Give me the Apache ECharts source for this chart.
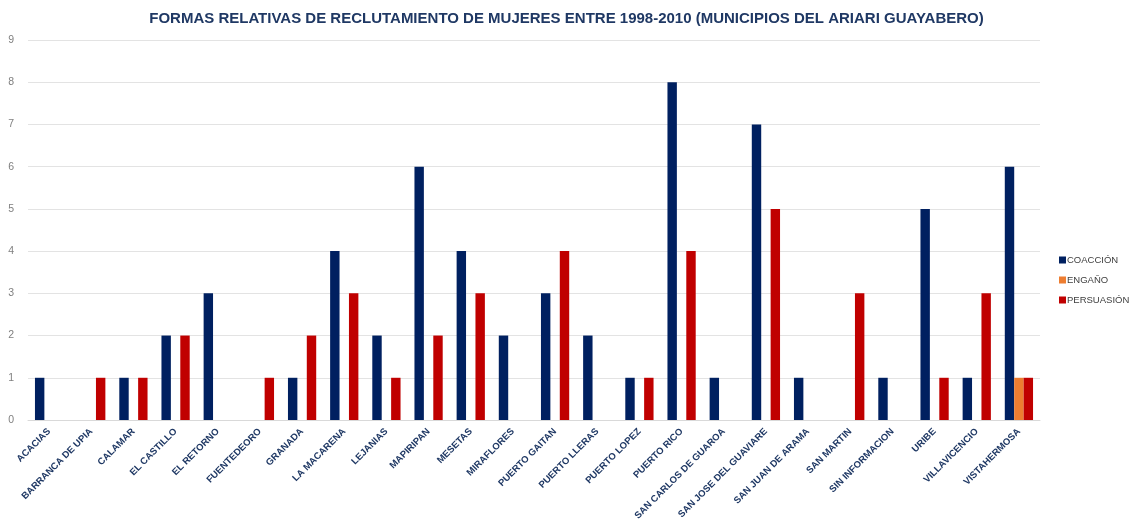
<!DOCTYPE html>
<html><head><meta charset="utf-8">
<script src="https://cdn.jsdelivr.net/npm/echarts@6/dist/echarts.min.js"></script>
<style>html,body{margin:0;padding:0;background:#fff}#c{width:1133px;height:524px}</style>
</head><body><div id="c"></div>
<script>
const categories = ['ACACIAS','BARRANCA DE UPIA','CALAMAR','EL CASTILLO','EL RETORNO','FUENTEDEORO','GRANADA','LA MACARENA','LEJANIAS','MAPIRIPAN','MESETAS','MIRAFLORES','PUERTO GAITAN','PUERTO LLERAS','PUERTO LOPEZ','PUERTO RICO','SAN CARLOS DE GUAROA','SAN JOSE DEL GUAVIARE','SAN JUAN DE ARAMA','SAN MARTIN','SIN INFORMACION','URIBE','VILLAVICENCIO','VISTAHERMOSA'];
const coaccion   = [1,0,1,2,3,0,1,4,2,6,4,2,3,2,1,8,1,7,1,0,1,5,1,6];
const engano     = [0,0,0,0,0,0,0,0,0,0,0,0,0,0,0,0,0,0,0,0,0,0,0,1];
const persuasion = [0,1,1,2,0,1,2,3,1,2,3,0,4,0,1,4,0,5,0,3,0,1,3,1];
const yTicks = [0,1,2,3,4,5,6,7,8,9];

const font = '"Liberation Sans", Arial, sans-serif';
const chart = echarts.init(document.getElementById('c'));
const mk = (name, data, color) => ({
  name, type: 'bar', data: data.map(v => v === 0 ? null : v),
  itemStyle: { color }, barGap: '0%', barCategoryGap: '33%'
});
chart.setOption({
  animation: false,
  title: {
    text: 'FORMAS RELATIVAS DE RECLUTAMIENTO DE MUJERES ENTRE 1998-2010 (MUNICIPIOS DEL ARIARI GUAYABERO)',
    left: 'center', top: 6,
    textStyle: { fontFamily: font, fontWeight: 'bold', fontSize: 15, color: '#1F3864' }
  },
  legend: {
    orient: 'vertical', left: 1054, top: 250, itemGap: 10,
    itemWidth: 7, itemHeight: 7, icon: 'rect',
    textStyle: { fontFamily: font, fontSize: 9.5, color: '#404040', padding: [0,0,0,-4] },
    data: ['COACCIÓN','ENGAÑO','PERSUASIÓN']
  },
  grid: { left: 28, right: 93, top: 40, bottom: 104, containLabel: false },
  xAxis: {
    type: 'category', data: categories,
    axisLine: { lineStyle: { color: '#D9D9D9' } },
    axisTick: { show: false },
    axisLabel: { rotate: 45, interval: 0, fontFamily: font, fontWeight: 'bold', fontSize: 9.5, color: '#1F3864', margin: 10 }
  },
  yAxis: {
    type: 'value', min: yTicks[0], max: yTicks[yTicks.length-1], interval: 1,
    axisLine: { show: false }, axisTick: { show: false },
    splitLine: { lineStyle: { color: '#E3E3E3' } },
    axisLabel: { fontFamily: font, fontSize: 10.5, color: '#7F7F7F', margin: 14 }
  },
  series: [
    mk('COACCIÓN', coaccion, '#002060'),
    mk('ENGAÑO', engano, '#ED7D31'),
    mk('PERSUASIÓN', persuasion, '#C00000')
  ]
});
</script></body></html>
